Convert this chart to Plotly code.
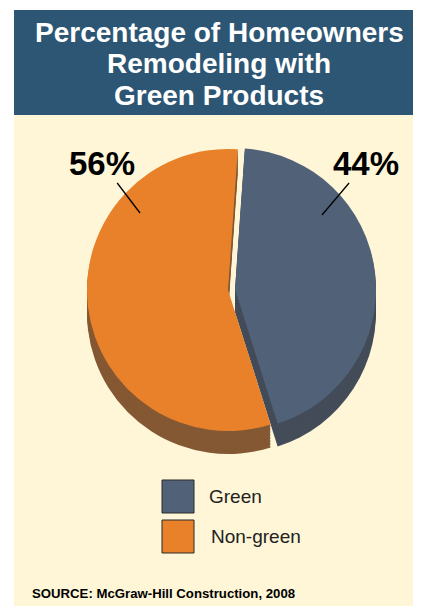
import plotly.graph_objects as go

# ---- data ----
labels = ["Green", "Non-green"]
values = [44, 56]
top_colors = ["#516278", "#e8812a"]
side_colors = ["#434c58", "#845832"]
title_lines = ["Percentage of Homeowners", "Remodeling with", "Green Products"]
source_text = "SOURCE: McGraw-Hill Construction, 2008"

# page has an 8px body margin; lay out in window pixels and convert
OFF = 8
W, H = 421 - OFF, 606 - OFF
def px(x):
    return (x - OFF) / W
def py(y):
    return 1 - (y - OFF) / H

BG = "#fef6d7"
BANNER = "#2c5673"
FONT = "Liberation Sans, Arial, sans-serif"

pull = [0.05, 0]
cx, cy, r = 228, 290, 141
r0 = r * (1 + max(pull))

fig = go.Figure()

# depth layers (3D side)
depth = 23
for d in range(depth, 0, -3):
    fig.add_trace(go.Pie(
        labels=labels, values=values, sort=False, direction="clockwise", rotation=4,
        pull=pull, marker=dict(colors=side_colors, line=dict(width=0)),
        textinfo="none", hoverinfo="skip", showlegend=False,
        domain=dict(x=[px(cx - r0), px(cx + r0)], y=[py(cy + d + r0), py(cy + d - r0)]),
    ))

# top face
fig.add_trace(go.Pie(
    labels=labels, values=values, sort=False, direction="clockwise", rotation=4,
    pull=pull, marker=dict(colors=top_colors, line=dict(width=0)),
    textinfo="none", hoverinfo="label+percent", showlegend=False,
    domain=dict(x=[px(cx - r0), px(cx + r0)], y=[py(cy + r0), py(cy - r0)]),
))

shapes = [
    dict(type="rect", xref="paper", yref="paper", x0=px(14), x1=1, y0=0, y1=py(115),
         fillcolor=BG, line=dict(width=0), layer="below"),
    dict(type="rect", xref="paper", yref="paper", x0=px(14), x1=1, y0=py(115), y1=py(10),
         fillcolor=BANNER, line=dict(width=0), layer="below"),
]

annotations = []
# title
for i, t in enumerate(title_lines):
    annotations.append(dict(text=t, x=px(219), y=py(33 + 31 * i), xref="paper", yref="paper",
                            xanchor="center", yanchor="middle", showarrow=False,
                            font=dict(family=FONT, size=28, color="white", weight="bold")))

# percentage labels with leader lines
label_pos = {"Non-green": ((102, 163), (140, 213)), "Green": ((366, 163), (322, 215))}
for lab, v in zip(labels, values):
    (tx, ty), (hx, hy) = label_pos[lab]
    annotations.append(dict(text=f"{v}%", x=px(hx), y=py(hy), xref="paper", yref="paper",
                            ax=tx - hx, ay=ty - hy, showarrow=True, arrowhead=0,
                            arrowwidth=1.3, arrowcolor="black",
                            font=dict(family=FONT, size=33, color="black", weight="bold")))

# legend
for i, (lab, col) in enumerate(zip(labels, top_colors)):
    y0 = 480 + 40 * i
    shapes.append(dict(type="rect", xref="paper", yref="paper",
                       x0=px(162), x1=px(194), y0=py(y0 + 33), y1=py(y0),
                       fillcolor=col, line=dict(color="#2a2a2a", width=1)))
    annotations.append(dict(text=lab, x=px(207 + 2 * i), y=py(y0 + 16), xref="paper", yref="paper",
                            xanchor="left", yanchor="middle", showarrow=False,
                            font=dict(family=FONT, size=19, color="#222222")))

# source
annotations.append(dict(text=source_text, x=px(30), y=py(593), xref="paper", yref="paper",
                        xanchor="left", yanchor="middle", showarrow=False,
                        font=dict(family=FONT, size=13.2, color="black", weight="bold")))

fig.update_layout(
    width=W, height=H, margin=dict(l=0, r=0, t=0, b=0),
    paper_bgcolor="white", plot_bgcolor="white",
    shapes=shapes, annotations=annotations, showlegend=False,
)

fig.write_html("out.html")
